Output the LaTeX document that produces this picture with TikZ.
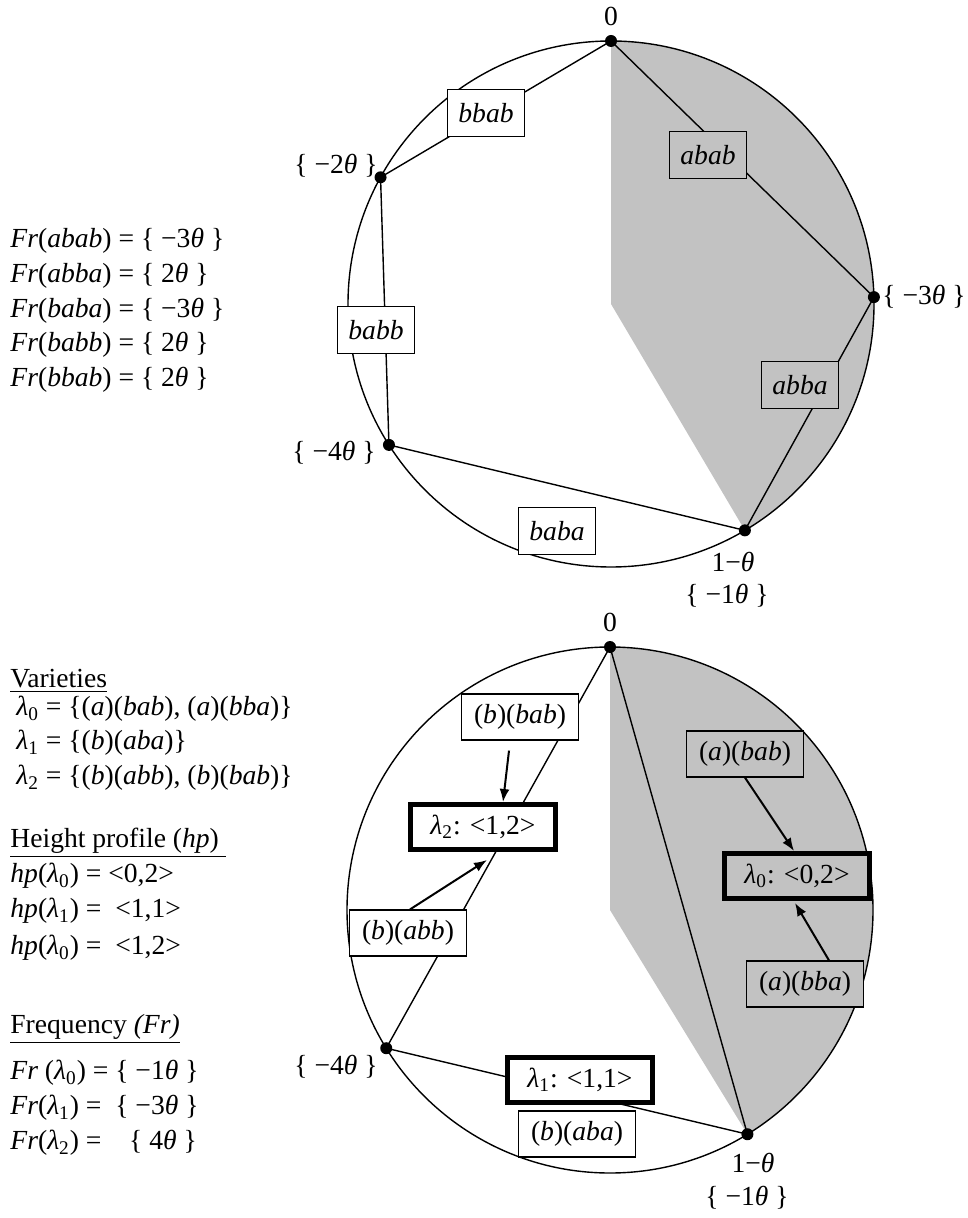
\documentclass[tikz,border=0pt]{standalone}
\usepackage{fontspec}
\setmainfont{Liberation Serif}
\usetikzlibrary{calc,arrows.meta}

\begin{document}
\begin{tikzpicture}[x=0.5pt,y=-0.5pt,
    every node/.style={font=\fontsize{13.8}{16}\selectfont},
    greyarea/.style={fill=black!24},
    ring/.style={line width=0.7pt},
    link/.style={line width=0.7pt},
    word/.style={draw, fill=white, line width=0.6pt, inner sep=0pt, minimum width=38.5pt, minimum height=23.5pt},
    pair/.style={word, minimum width=58.5pt, minimum height=23pt},
    profile/.style={draw, fill=white, line width=2.5pt, inner sep=0pt, minimum width=72.5pt, minimum height=22.5pt},
    lbl/.style={inner sep=0pt},
    arrow/.style={-{Latex[length=6.5pt,width=5pt]}, line width=1pt}]
        \useasboundingbox (0,0) rectangle (967,1218);

        % top: the five words on the circle
        \coordinate (topc) at (611,304);
        \coordinate (top0) at ($(topc)+(90:131.5pt)$);
        \coordinate (topm3) at ($(topc)+(1.5:131.5pt)$);
        \coordinate (topm2) at ($(topc)+(151.2:131.5pt)$);
        \coordinate (topm4) at ($(topc)+(212.4:131.5pt)$);
        \coordinate (topm1) at ($(topc)+(-59.4:131.5pt)$);
        \fill[greyarea] (top0) -- (topc) -- (topm1) arc[start angle=-59.4, end angle=90, radius=131.5pt] -- cycle;
        \draw[ring] (topc) circle[radius=131.5pt];
        \draw[link] (top0) -- (topm2);
        \draw[link] (topm2) -- (topm4);
        \draw[link] (topm4) -- (topm1);
        \draw[link] (top0) -- (topm3);
        \draw[link] (topm3) -- (topm1);
        \node[word] (bbab) at (486,113) {\textit{bbab}};
        \node[word, greyarea] (abab) at (708,155) {\textit{abab}};
        \node[word] (babb) at (376,330) {\textit{babb}};
        \node[word, greyarea] (abba) at (800,385) {\textit{abba}};
        \node[word] (baba) at (557,531) {\textit{baba}};
        \foreach \p in {top0,topm2,topm3,topm4,topm1}
            \fill (\p) circle (3pt);
        \node[lbl] (lbltop0) at (611,16) {0};
        \node[lbl, anchor=east] (lbltopm2) at (378,166) {\{ −2\textit{θ} \}};
        \node[lbl, anchor=west] (lbltopm3) at (882,297) {\{ −3\textit{θ} \}};
        \node[lbl, anchor=east] (lbltopm4) at (376,453) {\{ −4\textit{θ} \}};
        \node[lbl] (lbltopm1) at (733,562) {1−\textit{θ}};
        \node[lbl] (lbltopf1) at (727,596) {\{ −1\textit{θ} \}};

        % top left: frequencies
        \node[lbl, anchor=west] (frabab) at (10,241) {\textit{Fr}(\textit{abab}) = \{ −3\textit{θ} \}};
        \node[lbl, anchor=west] (frabba) at (10,276) {\textit{Fr}(\textit{abba}) = \{ 2\textit{θ} \}};
        \node[lbl, anchor=west] (frbaba) at (10,311) {\textit{Fr}(\textit{baba}) = \{ −3\textit{θ} \}};
        \node[lbl, anchor=west] (frbabb) at (10,345) {\textit{Fr}(\textit{babb}) = \{ 2\textit{θ} \}};
        \node[lbl, anchor=west] (frbbab) at (10,380) {\textit{Fr}(\textit{bbab}) = \{ 2\textit{θ} \}};

        % bottom: the varieties on the circle
        \coordinate (lowc) at (610,910);
        \coordinate (low0) at ($(lowc)+(90:131.5pt)$);
        \coordinate (lowm4) at ($(lowc)+(211.7:131.5pt)$);
        \coordinate (lowm1) at ($(lowc)+(-58.5:131.5pt)$);
        \fill[greyarea] (low0) -- (lowc) -- (lowm1) arc[start angle=-58.5, end angle=90, radius=131.5pt] -- cycle;
        \draw[ring] (lowc) circle[radius=131.5pt];
        \draw[link] (low0) -- (lowm4);
        \draw[link] (low0) -- (lowm1);
        \draw[link] (lowm4) -- (lowm1);
        \node[pair] (pb-bab) at (520,717) {(\textit{b})(\textit{bab})};
        \node[profile] (lam2) at (483,827) {\textit{λ}\textsubscript{2}: <1,2>};
        \node[pair] (pb-abb) at (408,933) {(\textit{b})(\textit{abb})};
        \node[profile] (lam1) at (580,1080) {\textit{λ}\textsubscript{1}: <1,1>};
        \node[pair] (pb-aba) at (577,1134) {(\textit{b})(\textit{aba})};
        \node[pair, greyarea] (pa-bab) at (745,754) {(\textit{a})(\textit{bab})};
        \node[profile, greyarea] (lam0) at (797,876) {\textit{λ}\textsubscript{0}: <0,2>};
        \node[pair, greyarea] (pa-bba) at (805,984) {(\textit{a})(\textit{bba})};
        \draw[arrow] ([xshift=-5.5pt,yshift=-5pt]pb-bab.south) -- ([xshift=10pt]lam2.north);
        \draw[arrow] ([xshift=1pt]pb-abb.north) -- ([xshift=2pt,yshift=-4pt]lam2.south);
        \draw[arrow] (pa-bab.south) -- ([xshift=-1.5pt]lam0.north);
        \draw[arrow] ([xshift=12pt]pa-bba.north) -- ([xshift=-1pt,yshift=-1pt]lam0.south);
        \foreach \p in {low0,lowm4,lowm1}
            \fill (\p) circle (3pt);
        \node[lbl] (lbllow0) at (610,622) {0};
        \node[lbl, anchor=east] (lbllowm4) at (378,1067) {\{ −4\textit{θ} \}};
        \node[lbl] (lbllowm1) at (753,1163) {1−\textit{θ}};
        \node[lbl] (lbllowf1) at (747,1198) {\{ −1\textit{θ} \}};

        % bottom left: varieties, height profiles, frequencies
        \node[lbl, anchor=west] (varhead) at (10,681) {\underline{Varieties}};
        \node[lbl, anchor=west] (var0) at (16,709) {\textit{λ}\textsubscript{0} = \{(\textit{a})(\textit{bab}), (\textit{a})(\textit{bba})\}};
        \node[lbl, anchor=west] (var1) at (16,743) {\textit{λ}\textsubscript{1} = \{(\textit{b})(\textit{aba})\}};
        \node[lbl, anchor=west] (var2) at (16,778) {\textit{λ}\textsubscript{2} = \{(\textit{b})(\textit{abb}), (\textit{b})(\textit{bab})\}};
        \node[lbl, anchor=west] (hphead) at (10,843) {\underline{Height profile (\textit{hp})\ }};
        \node[lbl, anchor=west] (hp0) at (10,876) {\textit{hp}(\textit{λ}\textsubscript{0}) = <0,2>};
        \node[lbl, anchor=west] (hp1) at (10,911) {\textit{hp}(\textit{λ}\textsubscript{1}) = \ <1,1>};
        \node[lbl, anchor=west] (hp2) at (10,948) {\textit{hp}(\textit{λ}\textsubscript{0}) = \ <1,2>};
        \node[lbl, anchor=west] (frhead) at (10,1029) {\underline{Frequency \textit{(Fr)}}};
        \node[lbl, anchor=west] (frlam0) at (10,1073) {\textit{Fr} (\textit{λ}\textsubscript{0}) = \{ −1\textit{θ} \}};
        \node[lbl, anchor=west] (frlam1) at (10,1108) {\textit{Fr}(\textit{λ}\textsubscript{1}) = \ \{ −3\textit{θ} \}};
        \node[lbl, anchor=west] (frlam2) at (10,1143) {\textit{Fr}(\textit{λ}\textsubscript{2}) = \ \ \ \{ 4\textit{θ} \}};
    \end{tikzpicture}
\end{document}
